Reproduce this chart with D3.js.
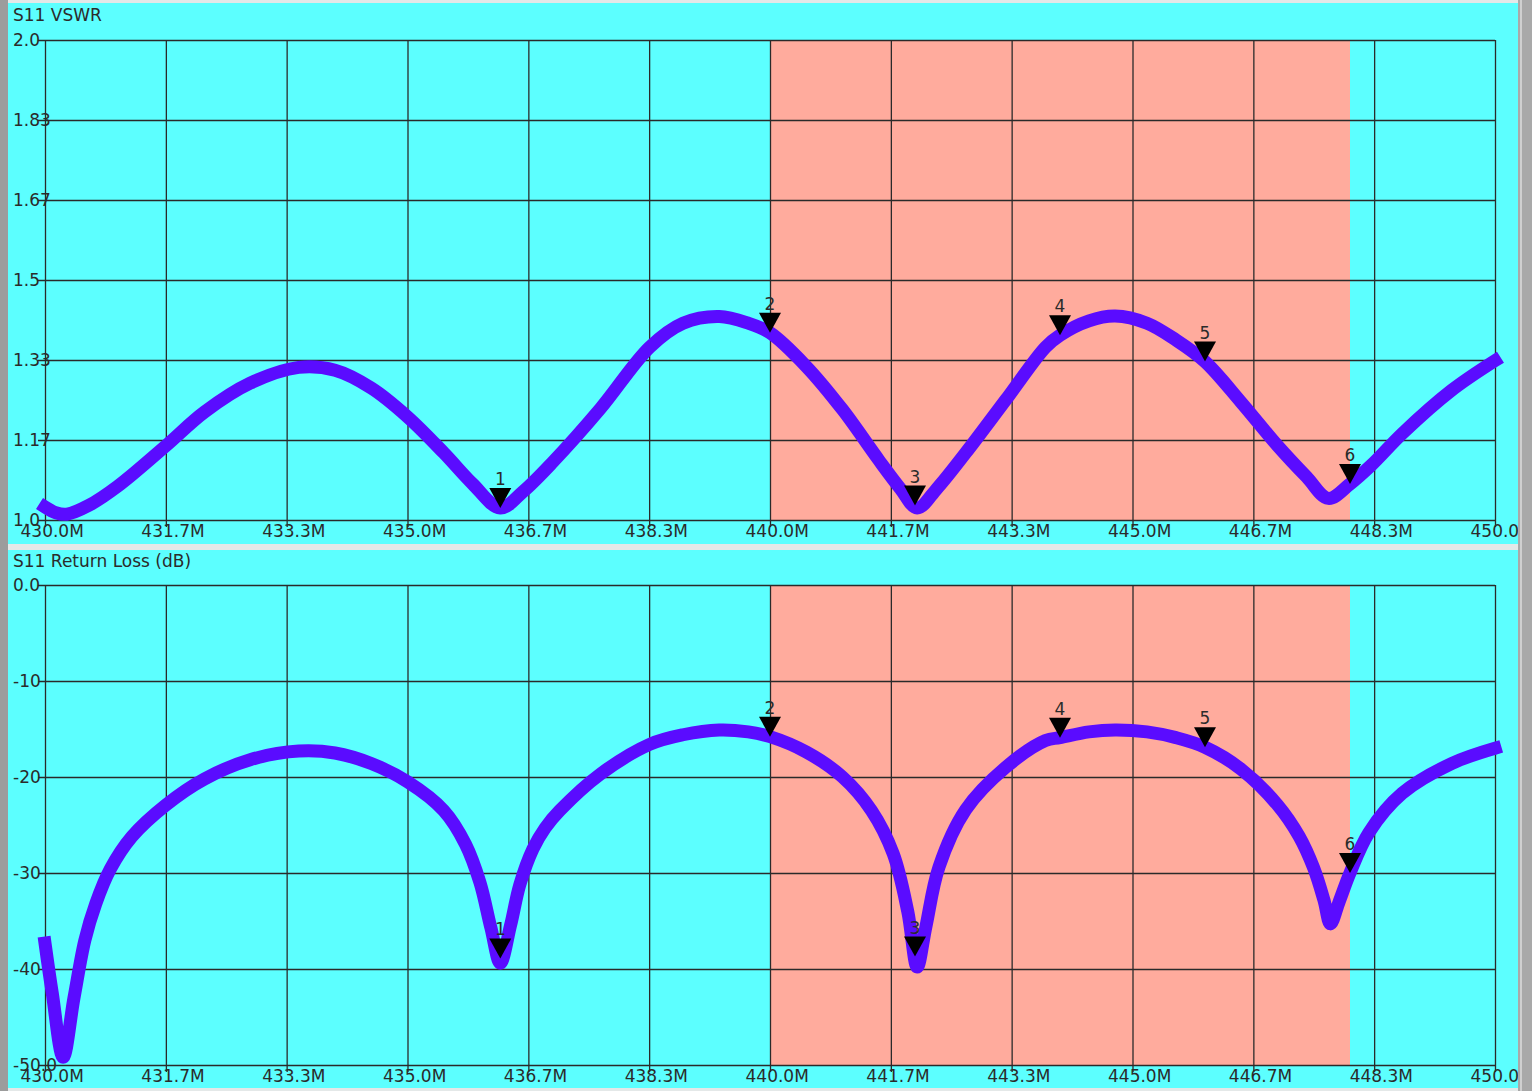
<!DOCTYPE html>
<html>
<head>
<meta charset="utf-8">
<script src="https://cdn.jsdelivr.net/npm/d3@7"></script>
<style>
  html, body { margin: 0; padding: 0; background: #d9dcdc; }
  svg { display: block; }
  text { font-family: "DejaVu Sans", Verdana, sans-serif; }
</style>
</head>
<body>
<svg id="chart" width="1532" height="1091"></svg>
<script>
// ---------------- data ----------------
const vswrFreqs = [430.0, 430.15, 430.3, 430.6, 431.0, 431.67, 432.2, 432.83, 433.5, 434.0,
  434.5, 435.0, 435.5, 435.9, 436.28, 436.6, 437.0, 437.66, 438.34, 438.8,
  439.3, 439.7, 440.0, 440.5, 441.0, 441.5, 441.8, 442.03, 442.3, 442.7,
  443.25, 443.8, 444.0, 444.4, 444.76, 445.2, 445.6, 446.0, 446.5, 447.0,
  447.4, 447.7, 448.0, 448.3, 448.72, 449.4, 450.0];
const vswr = [1.027, 1.015, 1.012, 1.030, 1.070, 1.155, 1.225, 1.285, 1.318, 1.312,
  1.275, 1.215, 1.140, 1.075, 1.025, 1.060, 1.120, 1.232, 1.360, 1.410,
  1.424, 1.410, 1.390, 1.320, 1.230, 1.125, 1.065, 1.025, 1.065, 1.140,
  1.250, 1.360, 1.385, 1.415, 1.425, 1.410, 1.375, 1.330, 1.245, 1.155,
  1.090, 1.045, 1.075, 1.115, 1.180, 1.270, 1.332];

const rlFreqs = [430.0, 430.1, 430.25, 430.4, 430.55, 430.7, 430.9, 431.2, 431.67, 432.2,
  432.83, 433.5, 434.0, 434.5, 435.0, 435.5, 435.8, 436.0, 436.15, 436.28,
  436.42, 436.55, 436.73, 436.9, 437.1, 437.66, 438.34, 438.8, 439.3, 439.7, 440.0,
  440.5, 441.0, 441.4, 441.7, 441.9, 442.03, 442.15, 442.33, 442.7, 443.25,
  443.8, 444.0, 444.4, 444.76, 445.2, 445.6, 446.0, 446.5, 447.0, 447.3,
  447.5, 447.64, 447.73, 447.85, 448.0, 448.26, 448.72, 449.4, 450.0];
const returnLoss = [-37.3, -42.5, -49.2, -43.0, -37.0, -33.2, -29.6, -26.2, -22.9, -20.2,
  -18.2, -17.3, -17.5, -18.6, -20.5, -23.5, -27.0, -31.0, -35.7, -39.4,
  -35.5, -31.2, -27.5, -25.3, -23.5, -19.7, -16.6, -15.6, -15.1, -15.3, -15.8,
  -17.4, -20.0, -23.5, -28.0, -34.0, -39.8, -35.6, -29.4, -23.4, -19.0,
  -16.2, -15.9, -15.3, -15.1, -15.3, -15.9, -16.9, -19.2, -22.9, -26.2,
  -29.5, -32.8, -35.3, -33.0, -30.0, -25.8, -21.7, -18.6, -17.0];

const markerLabels = ["1", "2", "3", "4", "5", "6"];
const markerFreqs = [436.28, 440.0, 442.0, 444.0, 446.0, 448.0];
const markerVSWR = [1.025, 1.39, 1.03, 1.385, 1.33, 1.075];
const markerRL = [-38.9, -15.8, -38.7, -15.9, -16.9, -30.0];

const xTickValues = [430.0, 431.667, 433.333, 435.0, 436.667, 438.333, 440.0, 441.667, 443.333, 445.0, 446.667, 448.333, 450.0];
const xTickLabels = ["430.0M", "431.7M", "433.3M", "435.0M", "436.7M", "438.3M", "440.0M", "441.7M", "443.3M", "445.0M", "446.7M", "448.3M", "450.0"];

const vswrTickValues = [1.0, 1.1667, 1.3333, 1.5, 1.6667, 1.8333, 2.0];
const vswrTickLabels = ["1.0", "1.17", "1.33", "1.5", "1.67", "1.83", "2.0"];

const rlTickValues = [0, -10, -20, -30, -40, -50];
const rlTickLabels = ["0.0", "-10", "-20", "-30", "-40", "-50.0"];

const bandStart = 440.0;
const bandEnd = 448.0;

const titles = ["S11 VSWR", "S11 Return Loss (dB)"];

// ---------------- drawing ----------------
const W = 1532, H = 1091;
const svg = d3.select("#chart");
const CYAN = "#5cffff", SALMON = "#ffab9d", LINE = "#5a0cff", GRID = "#2a2a2a", TXT = "#2b2b2b";
const FS = 17;

// frame
svg.append("rect").attr("x", 0).attr("y", 0).attr("width", W).attr("height", H).attr("fill", "#e4e8e8");
svg.append("rect").attr("x", 0).attr("y", 0).attr("width", 8).attr("height", H).attr("fill", "#9c9c9c");
svg.append("rect").attr("x", 1518).attr("y", 0).attr("width", 14).attr("height", H).attr("fill", "#a9a9a9");
svg.append("rect").attr("x", 1520).attr("y", 0).attr("width", 2).attr("height", H).attr("fill", "#d0d0d0");

const x = d3.scaleLinear().domain([430, 450]).range([45, 1495]);

const panels = [
  { top: 3, bottom: 544, plotTop: 40, plotBottom: 520, domain: [1.0, 2.0],
    ticks: vswrTickValues, tickLabels: vswrTickLabels, freqs: vswrFreqs, values: vswr,
    mvals: markerVSWR, title: titles[0] },
  { top: 550, bottom: 1088, plotTop: 585, plotBottom: 1065, domain: [-50, 0],
    ticks: rlTickValues, tickLabels: rlTickLabels, freqs: rlFreqs, values: returnLoss,
    mvals: markerRL, title: titles[1] }
];

panels.forEach((p, i) => {
  const y = d3.scaleLinear().domain(p.domain).range([p.plotBottom, p.plotTop]);
  const clipId = "clip" + i;
  svg.append("clipPath").attr("id", clipId)
    .append("rect").attr("x", 8).attr("y", p.top).attr("width", 1510).attr("height", p.bottom - p.top);

  const g = svg.append("g").attr("clip-path", `url(#${clipId})`);

  g.append("rect").attr("x", 8).attr("y", p.top).attr("width", 1510).attr("height", p.bottom - p.top).attr("fill", CYAN);

  // shaded band
  g.append("rect")
    .attr("x", x(bandStart)).attr("y", p.plotTop)
    .attr("width", x(bandEnd) - x(bandStart)).attr("height", p.plotBottom - p.plotTop)
    .attr("fill", SALMON);

  // x axis (grid + labels)
  const xAxis = d3.axisBottom(x).tickValues(xTickValues)
    .tickSize(-(p.plotBottom - p.plotTop)).tickSizeOuter(0)
    .tickFormat((d, k) => xTickLabels[k]);
  const xa = g.append("g").attr("transform", `translate(0,${p.plotBottom})`).call(xAxis);
  xa.select(".domain").remove();
  xa.selectAll(".tick line").attr("stroke", GRID).attr("stroke-width", 1.3).attr("y2", -(p.plotBottom - p.plotTop)).attr("y1", 7);
  xa.selectAll(".tick text").attr("fill", TXT).attr("font-size", FS)
    .attr("text-anchor", "start").attr("x", -25).attr("y", 17).attr("dy", 0);

  // y axis (grid + labels)
  const yAxis = d3.axisLeft(y).tickValues(p.ticks)
    .tickSize(-(x(450) - x(430))).tickSizeOuter(0)
    .tickFormat((d, k) => p.tickLabels[k]);
  const ya = g.append("g").attr("transform", `translate(${x(430)},0)`).call(yAxis);
  ya.select(".domain").remove();
  ya.selectAll(".tick line").attr("stroke", GRID).attr("stroke-width", 1.3).attr("x1", -7);
  ya.selectAll(".tick text").attr("fill", TXT).attr("font-size", FS)
    .attr("text-anchor", "start").attr("x", 13 - x(430)).attr("dy", "0.3em");

  // title
  g.append("text").attr("x", 13).attr("y", p.top + (i === 0 ? 18 : 17)).attr("fill", TXT)
    .attr("font-size", FS).text(p.title);

  // trace
  const line = d3.line().x((d, k) => x(p.freqs[k])).y(d => y(d)).curve(d3.curveCatmullRom.alpha(0.5));
  g.append("path").datum(p.values).attr("d", line)
    .attr("fill", "none").attr("stroke", LINE).attr("stroke-width", 13)
    .attr("stroke-linecap", "square").attr("stroke-linejoin", "round");

  // markers
  const mk = g.selectAll("g.marker").data(markerFreqs).enter().append("g").attr("class", "marker")
    .attr("transform", (d, k) => `translate(${x(d)},${y(p.mvals[k])})`);
  mk.append("path").attr("d", "M0,0 L-11,-20 L11,-20 Z").attr("fill", "#000");
  mk.append("text").attr("x", 0).attr("y", -23).attr("text-anchor", "middle")
    .attr("font-size", FS).attr("fill", TXT).text((d, k) => markerLabels[k]);
});
</script>
</body>
</html>
